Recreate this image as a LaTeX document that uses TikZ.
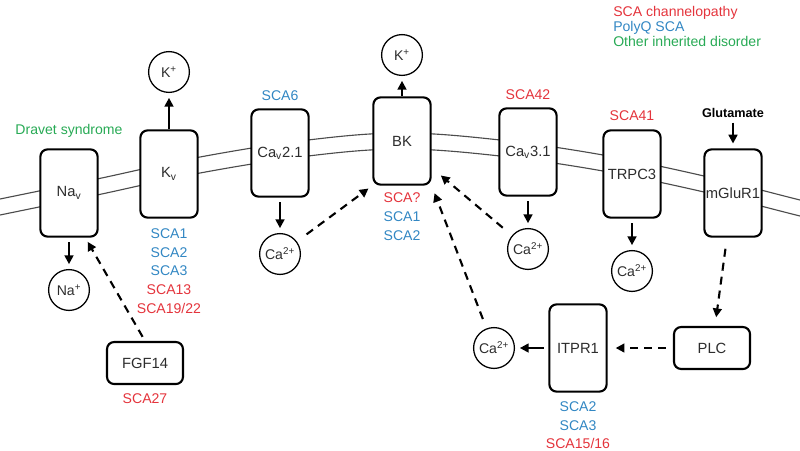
\documentclass[tikz,border=0pt]{standalone}
\usepackage{fontspec}
\setmainfont{Liberation Sans}
\usetikzlibrary{positioning, arrows.meta}
\definecolor{channelRed}{RGB}{228,52,60}
\definecolor{polyQBlue}{RGB}{50,135,195}
\definecolor{otherGreen}{RGB}{40,170,85}
\definecolor{textGray}{RGB}{45,45,45}
\tikzstyle{pixelGrid} = [x = 0.025cm, y = -0.025cm]
\tikzstyle{membraneStyle} = [color=black!70, line width=0.8pt]
\tikzstyle{channelStyle} = [draw, fill=white, rounded corners = .18cm, line width=1.5pt, minimum width=1.43cm, minimum height=2.18cm, inner sep=0pt, font=\fontsize{10.5}{12}\selectfont, text=textGray]
\tikzstyle{enzymeStyle} = [channelStyle, minimum width=1.9cm, minimum height=1.05cm]
\tikzstyle{ionStyle} = [draw, circle, line width=0.9pt, minimum size=1.02cm, inner sep=0pt, font=\fontsize{10}{12}\selectfont, text=textGray]
\tikzstyle{scaText} = [inner sep=0pt, align=center, font=\fontsize{10}{13.2}\selectfont]
\tikzstyle{fluxArrow} = [-{Triangle[length=2.2mm, width=2.2mm]}, line width=1.5pt, shorten <= .12cm, shorten >= .12cm]
\tikzstyle{signalArrow} = [fluxArrow, dash pattern=on 5.7pt off 4.3pt]
\newcommand{\membraneLine}[1]{\draw [membraneStyle, yshift=#1] plot [smooth, tension=.6] coordinates {(-10,201) (0,199) (97,179) (200,157) (308,140) (402,133) (500,140) (603,155) (704,176) (800,200) (810,202)};}
\newcommand{\channel}[3]{\node [channelStyle] (#1) at (#2) {#3};}
\newcommand{\ion}[3]{\node [ionStyle] (#1) at (#2) {#3};}
\newcommand{\calcium}{Ca\textsuperscript{2+}}

\begin{document}
\begin{tikzpicture}[pixelGrid]
        \useasboundingbox (0,0) rectangle (800,450);
        \membraneLine{0cm}
        \membraneLine{-0.4cm}

        \channel{nav}{69,193}{Na\textsubscript{v}}
        \channel{kv}{169,174}{K\textsubscript{v}}
        \channel{cavA}{280,153}{Ca\textsubscript{v}2.1}
        \channel{bk}{402,141}{BK}
        \channel{cavB}{528,152}{Ca\textsubscript{v}3.1}
        \channel{trpc}{632,174}{TRPC3}
        \channel{mglur}{733,193}{mGluR1}
        \channel{itpr}{578,348}{ITPR1}
        \node [enzymeStyle] (fgf) at (145,363) {FGF14};
        \node [enzymeStyle] (plc) at (712,348) {PLC};

        \ion{naIon}{69,290}{Na\textsuperscript{+}}
        \ion{kIonA}{169,72}{K\textsuperscript{+}}
        \ion{kIonB}{402,55}{K\textsuperscript{+}}
        \ion{caIonA}{280,254}{\calcium}
        \ion{caIonB}{528,249}{\calcium}
        \ion{caIonC}{632,271}{\calcium}
        \ion{caIonD}{494,348}{\calcium}

        \node [scaText, anchor=base west, text=channelRed] (legendRed) at (613,16) {SCA channelopathy};
        \node [scaText, anchor=base west, text=polyQBlue] (legendBlue) at (613,31) {PolyQ SCA};
        \node [scaText, anchor=base west, text=otherGreen] (legendGreen) at (613,46) {Other inherited disorder};

        \node [scaText, text=otherGreen] (dravet) at (69,131) {Dravet syndrome};
        \node [scaText, font=\bfseries\fontsize{9}{11}\selectfont] (glutamate) at (733,113) {Glutamate};
        \node [scaText, text=polyQBlue, above=.18cm of cavA] (cavASca) {SCA6};
        \node [scaText, text=channelRed, above=.18cm of cavB] (cavBSca) {SCA42};
        \node [scaText, text=channelRed, above=.22cm of trpc] (trpcSca) {SCA41};
        \node [scaText, below=.25cm of kv] (kvSca) {\textcolor{polyQBlue}{SCA1}\\\textcolor{polyQBlue}{SCA2}\\\textcolor{polyQBlue}{SCA3}\\\textcolor{channelRed}{SCA13}\\\textcolor{channelRed}{SCA19/22}};
        \node [scaText, below=.18cm of bk] (bkSca) {\textcolor{channelRed}{SCA?}\\\textcolor{polyQBlue}{SCA1}\\\textcolor{polyQBlue}{SCA2}};
        \node [scaText, text=channelRed, below=.2cm of fgf] (fgfSca) {SCA27};
        \node [scaText, below=.22cm of itpr] (itprSca) {\textcolor{polyQBlue}{SCA2}\\\textcolor{polyQBlue}{SCA3}\\\textcolor{channelRed}{SCA15/16}};

        \draw [fluxArrow] (nav) -- (naIon);
        \draw [fluxArrow, shorten <= 0pt] (kv) -- (kIonA);
        \draw [fluxArrow, shorten <= 0pt] (bk) -- (kIonB);
        \draw [fluxArrow] (cavA) -- (caIonA);
        \draw [fluxArrow] (cavB) -- (caIonB);
        \draw [fluxArrow] (trpc) -- (caIonC);
        \draw [fluxArrow] (glutamate) -- (mglur);
        \draw [fluxArrow] (itpr) -- (caIonD);

        \draw [signalArrow] (fgf.north) -- (nav.-70);
        \draw [signalArrow, shorten <= .3cm] (caIonA) -- (bk.south west);
        \draw [signalArrow, shorten <= .3cm, shorten >= .3cm] (caIonB) -- (bk.-42);
        \draw [signalArrow, shorten <= .25cm, shorten >= .2cm] (caIonD) -- (bk.south east);
        \draw [signalArrow, shorten <= .28cm, shorten >= .22cm] (mglur) -- (plc);
        \draw [signalArrow, shorten <= .18cm, shorten >= .2cm] (plc) -- (itpr);
      \end{tikzpicture}
\end{document}
